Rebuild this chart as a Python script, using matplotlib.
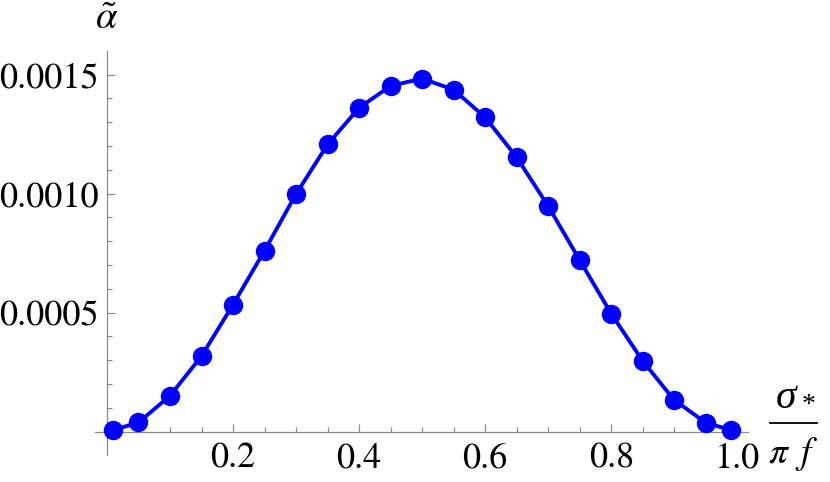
import matplotlib
matplotlib.use("Agg")
import matplotlib.pyplot as plt
from matplotlib.ticker import FixedLocator
from matplotlib.lines import Line2D

# data
x_vals = [0.01, 0.05, 0.10, 0.15, 0.20, 0.25, 0.30, 0.35, 0.40, 0.45, 0.50,
          0.55, 0.60, 0.65, 0.70, 0.75, 0.80, 0.85, 0.90, 0.95, 0.99]
alpha_vals = [0.000006, 0.000038, 0.000150, 0.000317, 0.000533, 0.000760,
              0.000998, 0.001206, 0.001360, 0.001452, 0.001483, 0.001436,
              0.001320, 0.001152, 0.000947, 0.000720, 0.000495, 0.000296,
              0.000132, 0.000037, 0.000006]
x_ticks = [0.2, 0.4, 0.6, 0.8, 1.0]
x_tick_labels = ["0.2", "0.4", "0.6", "0.8", "1.0"]
y_ticks = [0.0005, 0.0010, 0.0015]
y_tick_labels = ["0.0005", "0.0010", "0.0015"]

plt.rcParams['mathtext.fontset'] = 'stix'
plt.rcParams['font.family'] = ['STIXGeneral', 'Liberation Serif', 'DejaVu Serif']

W, H = 830, 482
fig = plt.figure(figsize=(W / 100, H / 100), dpi=100)
left_px, right_px, top_px, bot_px = 95, 748, 50.7, 455
ax = fig.add_axes([left_px / W, 1 - bot_px / H, (right_px - left_px) / W, (bot_px - top_px) / H])

blue = '#0000ff'
axis_gray = '#8c8c8c'

ax.plot(x_vals, alpha_vals, color=blue, lw=2.8, zorder=3, solid_capstyle='round')
ax.plot(x_vals, alpha_vals, 'o', color=blue, ms=14, mew=0, zorder=4)

ax.set_xlim(-0.019, 1.017)
ax.set_ylim(-0.0000987, 0.0016)

for s in ['top', 'right']:
    ax.spines[s].set_visible(False)
ax.spines['left'].set_position(('data', 0))
ax.spines['bottom'].set_position(('data', 0))
for s in ['left', 'bottom']:
    ax.spines[s].set_color(axis_gray)
    ax.spines[s].set_linewidth(0.9)

ax.xaxis.set_major_locator(FixedLocator(x_ticks))
ax.set_xticklabels(x_tick_labels)
ax.xaxis.set_minor_locator(FixedLocator([0.05 * i for i in range(1, 21) if i % 4 != 0]))
ax.yaxis.set_major_locator(FixedLocator(y_ticks))
ax.set_yticklabels(y_tick_labels)
ax.yaxis.set_minor_locator(FixedLocator([0.0001 * i for i in range(1, 16) if i % 5 != 0]))

ax.tick_params(which='both', direction='in', color=axis_gray, width=0.9,
               labelsize=26, labelcolor='black')
ax.tick_params(which='major', length=5.5, pad=6)
ax.tick_params(which='minor', length=3.5)
ax.tick_params(axis='x', which='major', pad=8)

# y-axis label
fig.text(107 / W, 1 - 20 / H, r'$\tilde{\alpha}$', fontsize=28, ha='center', va='center')

# x-axis label as a stacked fraction
fig.text(776 / W, 1 - 408 / H, 'σ', fontsize=30, fontstyle='italic',
         family=['Liberation Serif', 'DejaVu Serif'], ha='left', va='baseline')
fig.text(802 / W, 1 - 412 / H, '*', fontsize=20,
         family=['Liberation Serif', 'DejaVu Serif'], ha='left', va='baseline')
fig.add_artist(Line2D([770 / W, 817 / W], [1 - 423.3 / H, 1 - 423.3 / H],
                      transform=fig.transFigure, color='black', lw=1.3))
fig.text(793 / W, 1 - 463 / H, r'$\pi\ \,f$', fontsize=27, ha='center', va='baseline')

fig.savefig('out.png', dpi=100)
